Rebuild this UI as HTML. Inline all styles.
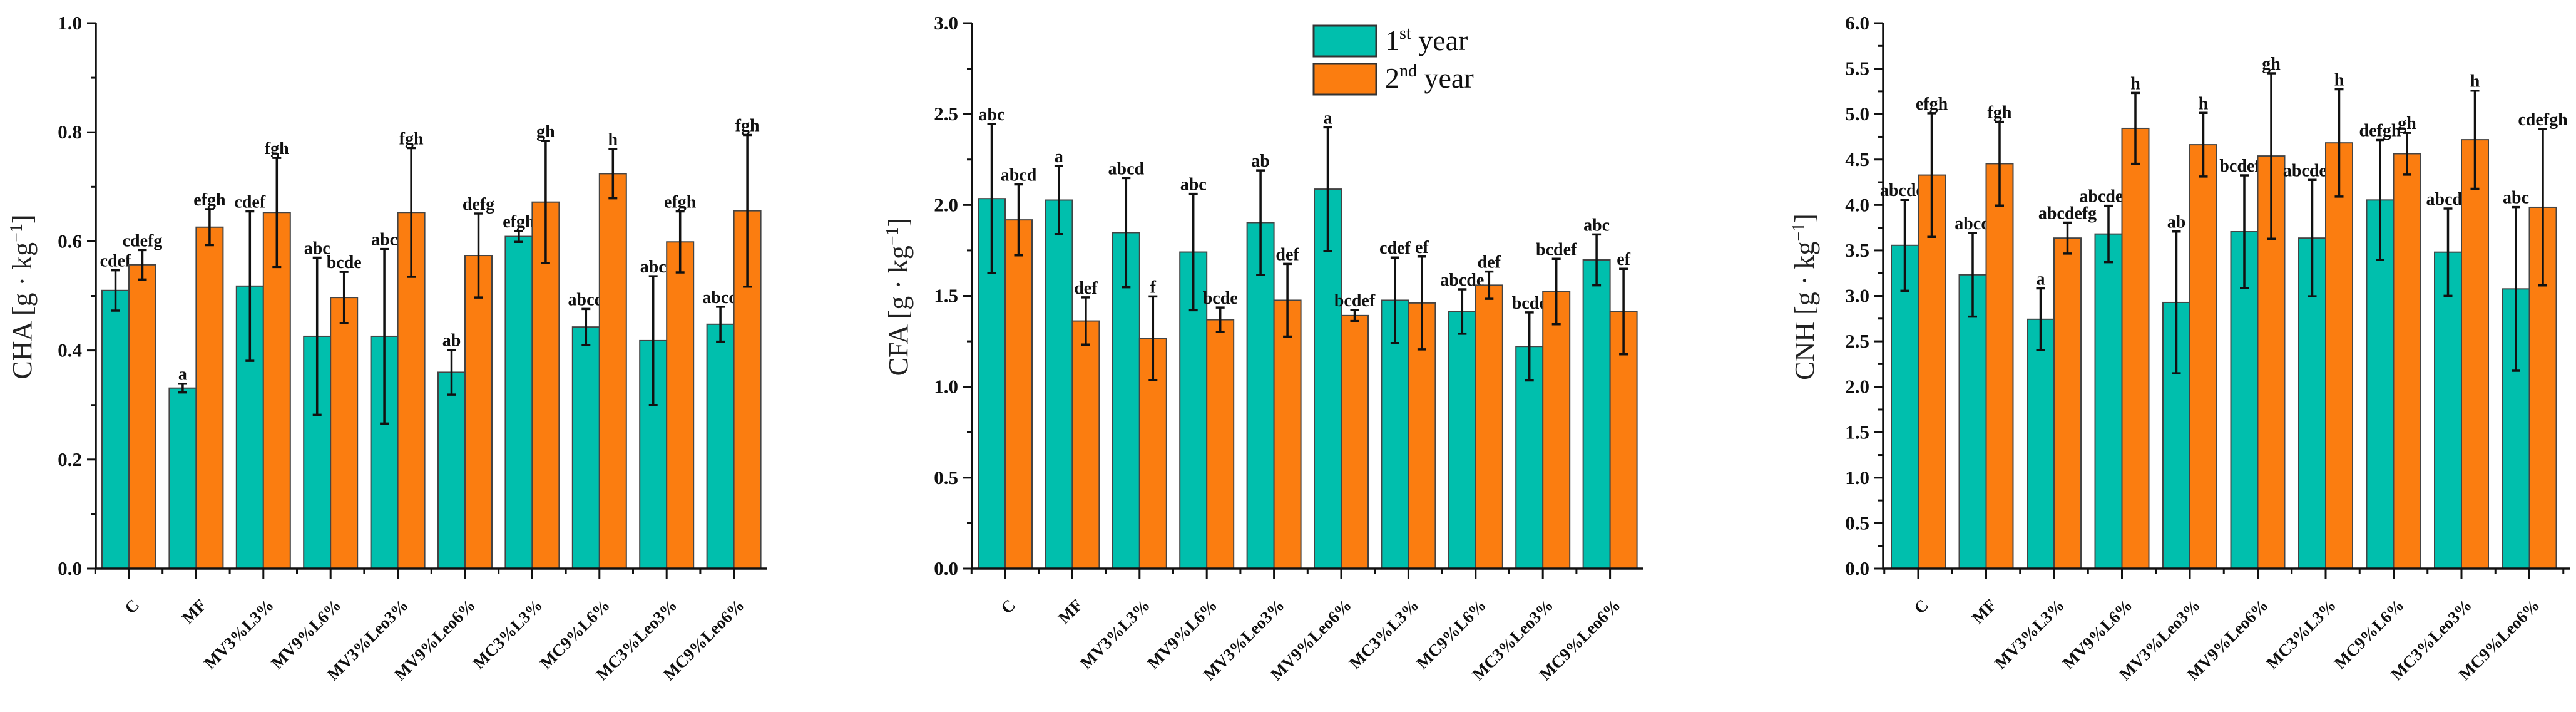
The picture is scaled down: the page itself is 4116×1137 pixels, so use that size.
<!DOCTYPE html>
<html><head><meta charset="utf-8"><style>
html,body{margin:0;padding:0;background:#fff;}
svg{display:block;}
text{font-family:"Liberation Serif",serif;}
</style></head>
<body>
<svg id="chart" width="4116" height="1137" viewBox="0 0 4116 1137" xmlns="http://www.w3.org/2000/svg">
<g>
<rect x="2099" y="41" width="100" height="49" fill="#00bfad" stroke="#333" stroke-width="3"/>
<text x="2213" y="80" font-size="46" fill="#111">1<tspan font-size="28" dy="-18">st</tspan><tspan dy="18"> year</tspan></text>
<rect x="2099" y="102" width="100" height="49" fill="#fb7d10" stroke="#333" stroke-width="3"/>
<text x="2213" y="140" font-size="46" fill="#111">2<tspan font-size="28" dy="-18">nd</tspan><tspan dy="18"> year</tspan></text>
</g>
</svg>
<script>
const categories = ["C","MF","MV3%L3%","MV9%L6%","MV3%Leo3%","MV9%Leo6%","MC3%L3%","MC9%L6%","MC3%Leo3%","MC9%Leo6%"];

const chaYear1 = [0.51,0.331,0.518,0.426,0.426,0.36,0.609,0.443,0.418,0.448];
const chaYear1Err = [0.037,0.008,0.137,0.144,0.16,0.041,0.01,0.033,0.118,0.032];
const chaYear2 = [0.557,0.626,0.653,0.497,0.653,0.574,0.672,0.724,0.599,0.656];
const chaYear2Err = [0.027,0.033,0.1,0.047,0.118,0.077,0.112,0.045,0.056,0.139];
const chaLetters1 = ["cdef","a","cdef","abc","abc","ab","efgh","abcd","abc","abcd"];
const chaLetters2 = ["cdefg","efgh","fgh","bcde","fgh","defg","gh","h","efgh","fgh"];
const chaTicks = ["0.0","0.2","0.4","0.6","0.8","1.0"];

const cfaYear1 = [2.035,2.027,1.848,1.741,1.903,2.087,1.476,1.414,1.222,1.698];
const cfaYear1Err = [0.41,0.187,0.30,0.32,0.287,0.34,0.235,0.122,0.187,0.14];
const cfaYear2 = [1.918,1.362,1.267,1.369,1.476,1.392,1.461,1.559,1.524,1.414];
const cfaYear2Err = [0.195,0.13,0.23,0.067,0.2,0.03,0.255,0.075,0.18,0.235];
const cfaLetters1 = ["abc","a","abcd","abc","ab","a","cdef","abcde","bcde","abc"];
const cfaLetters2 = ["abcd","def","f","bcde","def","bcdef","ef","def","bcdef","ef"];
const cfaTicks = ["0.0","0.5","1.0","1.5","2.0","2.5","3.0"];

const cnhYear1 = [3.556,3.232,2.743,3.681,2.928,3.706,3.636,4.055,3.481,3.077];
const cnhYear1Err = [0.5,0.46,0.34,0.31,0.78,0.62,0.64,0.66,0.48,0.9];
const cnhYear2 = [4.329,4.454,3.636,4.843,4.663,4.539,4.683,4.564,4.718,3.975];
const cnhYear2Err = [0.68,0.46,0.17,0.39,0.35,0.91,0.59,0.23,0.54,0.86];
const cnhLetters1 = ["abcdef","abcd","a","abcdefg","ab","bcdefg","abcdefg","defgh","abcde","abc"];
const cnhLetters2 = ["efgh","fgh","abcdefg","h","h","gh","h","gh","h","cdefgh"];
const cnhTicks = ["0.0","0.5","1.0","1.5","2.0","2.5","3.0","3.5","4.0","4.5","5.0","5.5","6.0"];

const NS = "http://www.w3.org/2000/svg";
const svg = document.getElementById("chart");
function mk(tag, attrs, parent){
  const e = document.createElementNS(NS, tag);
  for (const k in attrs) e.setAttribute(k, attrs[k]);
  parent.appendChild(e);
  return e;
}

function drawChart(cfg){
  const g = mk("g", {}, svg);
  
  
  const yZero = 908, yTop = 37;
  const max = parseFloat(cfg.ticks[cfg.ticks.length-1]);
  const y = v => yZero - (v / max) * (yZero - yTop);
  const xc = i => cfg.first + i * cfg.step;
  const bw = cfg.bw;

  for (let i = 0; i < categories.length; i++) {
    const series = [[cfg.s1, cfg.e1, cfg.l1, "#00bfad", -1], [cfg.s2, cfg.e2, cfg.l2, "#fb7d10", 0]];
    for (const [s, e, l, col, off] of series) {
      const x = xc(i) + off * bw;
      const r = mk("rect", {x: x, y: y(s[i]), width: bw, height: yZero - y(s[i]), fill: col, stroke: "#444", "stroke-width": 2}, g);
      
      
      const cx = x + bw / 2, yt = y(s[i] + e[i]), yb = y(s[i] - e[i]);
      const eb = mk("path", {d: `M${cx},${yt}V${yb}M${cx-7},${yt}H${cx+7}M${cx-7},${yb}H${cx+7}`, stroke: "#111", "stroke-width": 3.5, fill: "none"}, g);
      
      
      const t = mk("text", {x: cx, y: yt - 6, "text-anchor": "middle", "font-size": 28, "font-weight": "bold", fill: "#111"}, g);
      t.textContent = l[i];
      
      
    }
  }

  const ax = mk("path", {d: `M${cfg.axisX},${yTop}V${yZero}H${cfg.right}`, stroke: "#111", "stroke-width": 3.5, fill: "none"}, g);
  
  
  for (let k = 0; k < cfg.ticks.length; k++) {
    const v = parseFloat(cfg.ticks[k]);
    const ty = y(v);
    mk("line", {x1: cfg.axisX - 14, x2: cfg.axisX, y1: ty, y2: ty, stroke: "#111", "stroke-width": 3}, g);
    if (k < cfg.ticks.length - 1) {
      const my = y(v + max / (cfg.ticks.length - 1) / 2);
      mk("line", {x1: cfg.axisX - 8, x2: cfg.axisX, y1: my, y2: my, stroke: "#111", "stroke-width": 3}, g);
    }
    const tl = mk("text", {x: cfg.axisX - 22, y: ty + 10, "text-anchor": "end", "font-size": 31, "font-weight": "bold", fill: "#111"}, g);
    tl.textContent = cfg.ticks[k];
    
    
  }
  const title = mk("text", {x: cfg.titleX, y: 474, "text-anchor": "middle", "font-size": 44, fill: "#222", transform: `rotate(-90 ${cfg.titleX} 474)`}, g);
  title.innerHTML = cfg.title + ' [g · kg<tspan font-size="28" dy="-15">−1</tspan><tspan dy="15">]</tspan>';
  
  

  for (let i = 0; i < categories.length; i++) {
    const x = xc(i);
    mk("line", {x1: x, x2: x, y1: yZero, y2: yZero + 16, stroke: "#111", "stroke-width": 3}, g);
    const mx = x + cfg.step / 2;
    if (mx < cfg.right) mk("line", {x1: mx, x2: mx, y1: yZero, y2: yZero + 8, stroke: "#111", "stroke-width": 3}, g);
    const lx = x + 18, ly = 968;
    const lt = mk("text", {x: lx, y: ly, "text-anchor": "end", "font-size": 27, "font-weight": "bold", fill: "#111", transform: `rotate(-45 ${lx} ${ly})`}, g);
    lt.textContent = categories[i];
    
    
  }
  mk("line", {x1: cfg.first - cfg.step / 2, x2: cfg.first - cfg.step / 2, y1: yZero, y2: yZero + 8, stroke: "#111", "stroke-width": 3}, g);
}

drawChart({name: "cha", title: "CHA", axisX: 153, right: 1226, first: 206, step: 107.4, bw: 43, titleX: 50,
  s1: chaYear1, e1: chaYear1Err, s2: chaYear2, e2: chaYear2Err, l1: chaLetters1, l2: chaLetters2, ticks: chaTicks});
drawChart({name: "cfa", title: "CFA", axisX: 1553, right: 2626, first: 1606, step: 107.4, bw: 43, titleX: 1450,
  s1: cfaYear1, e1: cfaYear1Err, s2: cfaYear2, e2: cfaYear2Err, l1: cfaLetters1, l2: cfaLetters2, ticks: cfaTicks});
drawChart({name: "cnh", title: "CNH", axisX: 3009, right: 4106, first: 3065, step: 108.5, bw: 43, titleX: 2898,
  s1: cnhYear1, e1: cnhYear1Err, s2: cnhYear2, e2: cnhYear2Err, l1: cnhLetters1, l2: cnhLetters2, ticks: cnhTicks});
</script>
</body></html>
